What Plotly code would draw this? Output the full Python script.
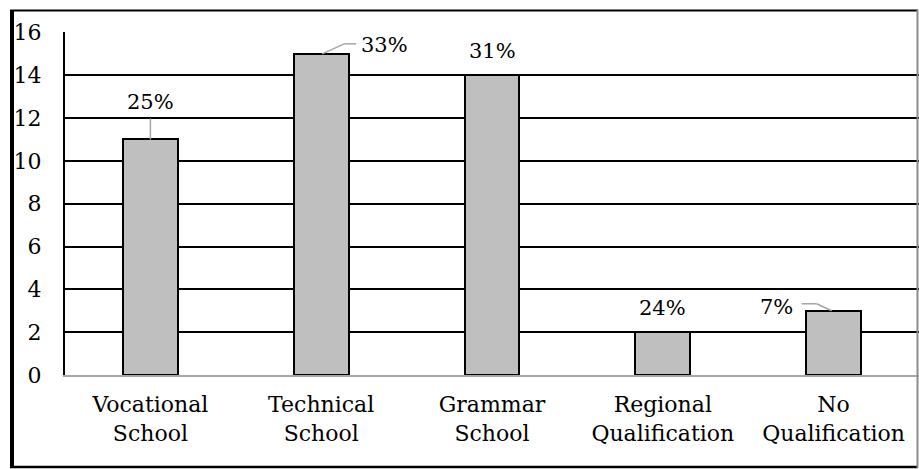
import plotly.graph_objects as go

# Survey results: number of respondents by highest school qualification
categories = ["Vocational<br>School", "Technical<br>School", "Grammar<br>School",
              "Regional<br>Qualification", "No<br>Qualification"]
counts = [11, 15, 14, 2, 3]
share_labels = ["25%", "33%", "31%", "24%", "7%"]

# Label placement relative to the top of each bar (pixels, +y is up)
label_offsets = [(0, 37), (63, 9), (0, 24), (0, 24), (-57, 4)]
# Leader-line polylines (pixels, relative to the top of each bar)
leaders = [
    [(0, 0), (0, 21)],
    [(1, 0), (23, 10), (35, 10)],
    [],
    [],
    [(-2, 0), (-17, 7), (-32, 7)],
]

FONT = "DejaVu Serif"
FS = 22
W, H = 919, 469
ML, MR, MT, MB = 65, 0, 32, 94
PW, PH = W - ML - MR, H - MT - MB


def px_to_paper_x(px):
    return (px - ML) / PW


def px_to_paper_y(py):
    return (H - MB - py) / PH


fig = go.Figure(
    go.Bar(
        x=list(range(len(categories))),
        y=counts,
        width=0.32,
        marker=dict(color="#bfbfbf", line=dict(color="#000000", width=2)),
        hoverinfo="skip",
    )
)

shapes = []
annotations = []
for i, (v, lab) in enumerate(zip(counts, share_labels)):
    dx, dy = label_offsets[i]
    annotations.append(dict(
        x=i, y=v, xref="x", yref="y", text=lab, showarrow=False,
        xshift=dx, yshift=dy, xanchor="center", yanchor="middle",
        font=dict(family=FONT, size=FS - 1, color="#000000"),
    ))
    pts = leaders[i]
    for (x0, y0), (x1, y1) in zip(pts[:-1], pts[1:]):
        shapes.append(dict(
            type="line", xref="x", yref="y",
            xsizemode="pixel", ysizemode="pixel",
            xanchor=i, yanchor=v,
            x0=x0, x1=x1, y0=y0, y1=y1,
            line=dict(color="#a6a6a6", width=1.5),
            layer="above",
        ))

# Outer frame of the chart area
frame = [
    (12, 10, 12, 468, "#000000", 4),
    (10, 10.5, 918, 10.5, "#000000", 2),
    (10, 467, 918, 467, "#000000", 2.5),
    (917.5, 10, 917.5, 468, "#8c8c8c", 2),
]
for x0, y0, x1, y1, c, w in frame:
    shapes.append(dict(
        type="line", xref="paper", yref="paper",
        x0=px_to_paper_x(x0), x1=px_to_paper_x(x1),
        y0=px_to_paper_y(y0), y1=px_to_paper_y(y1),
        line=dict(color=c, width=w), layer="above",
    ))

fig.update_layout(
    width=W, height=H,
    margin=dict(l=ML, r=MR, t=MT, b=MB),
    paper_bgcolor="#ffffff", plot_bgcolor="#ffffff",
    showlegend=False,
    font=dict(family=FONT, size=FS, color="#000000"),
    shapes=shapes,
    annotations=annotations,
    xaxis=dict(
        range=[-0.5, len(categories) - 0.5],
        tickmode="array",
        tickvals=list(range(len(categories))),
        ticktext=categories,
        showgrid=False, zeroline=False,
        showline=True, linecolor="#a6a6a6", linewidth=2,
        ticks="", ticklabelstandoff=9,
        tickfont=dict(family=FONT, size=FS, color="#000000"),
        fixedrange=True,
    ),
    yaxis=dict(
        range=[0, 16.02], dtick=2, tick0=0,
        showgrid=True, gridcolor="#000000", gridwidth=2,
        zeroline=False,
        showline=True, linecolor="#000000", linewidth=2,
        ticks="", ticklabelstandoff=17,
        tickfont=dict(family=FONT, size=FS, color="#000000"),
        fixedrange=True,
    ),
    bargap=0,
)

fig.write_html("out.html")
